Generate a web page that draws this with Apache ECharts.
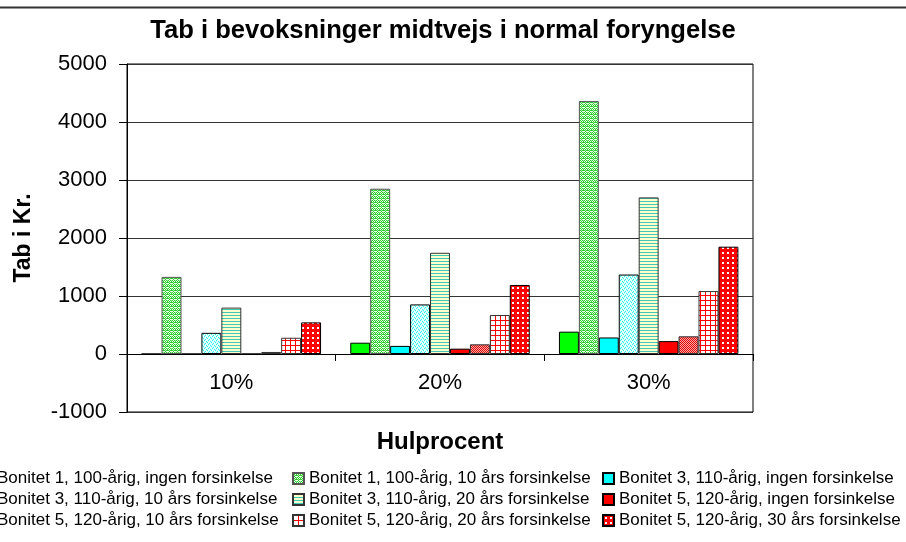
<!DOCTYPE html>
<html><head><meta charset="utf-8">
<script src="https://cdn.jsdelivr.net/npm/echarts@6/dist/echarts.min.js"></script>
<style>html,body{margin:0;padding:0;background:#fff}#c{width:906px;height:542px}</style>
</head><body><div id="c"></div>
<script>
// ---- data ----
const categories = ['10%', '20%', '30%'];
const seriesNames = [
  'Bonitet 1, 100-årig, ingen forsinkelse',
  'Bonitet 1, 100-årig, 10 års forsinkelse',
  'Bonitet 3, 110-årig, ingen forsinkelse',
  'Bonitet 3, 110-årig, 10 års forsinkelse',
  'Bonitet 3, 110-årig, 20 års forsinkelse',
  'Bonitet 5, 120-årig, ingen forsinkelse',
  'Bonitet 5, 120-årig, 10 års forsinkelse',
  'Bonitet 5, 120-årig, 20 års forsinkelse',
  'Bonitet 5, 120-årig, 30 års forsinkelse'
];
const b1_ingen = [0, 195, 385];
const b1_10 = [1330, 2850, 4360];
const b3_ingen = [0, 140, 285];
const b3_10 = [365, 855, 1370];
const b3_20 = [800, 1745, 2700];
const b5_ingen = [0, 92, 222];
const b5_10 = [35, 167, 305];
const b5_20 = [280, 672, 1085];
const b5_30 = [545, 1190, 1850];
const yMin = -1000, yMax = 5000, yStep = 1000;
const title = 'Tab i bevoksninger midtvejs i normal foryngelse';
const xName = 'Hulprocent';
const yName = 'Tab i Kr.';

// ---- patterns ----
function pat(w, h, fn) {
  const c = document.createElement('canvas');
  c.width = w; c.height = h;
  const g = c.getContext('2d');
  fn(g);
  return { image: c, repeat: 'repeat' };
}
function px(g, color, pts) { g.fillStyle = color; pts.forEach(p => g.fillRect(p[0], p[1], 1, 1)); }

const greenDots = pat(4, 4, g => {
  g.fillStyle = '#e6ffe6'; g.fillRect(0, 0, 4, 4);
  px(g, '#33cc33', [[0,0],[2,0],[1,1],[3,2],[0,2],[2,2],[1,3],[3,1]]);
  px(g, '#99ee99', [[1,2],[3,0]]);
});
const cyanDots = pat(4, 4, g => {
  g.fillStyle = '#ccffff'; g.fillRect(0, 0, 4, 4);
  px(g, '#33eeee', [[0,0],[2,1],[1,3],[3,2]]);
  px(g, '#ffffff', [[1,1],[3,0],[0,2],[2,3]]);
});
const stripes = pat(3, 3, g => {
  g.fillStyle = '#ffffcc'; g.fillRect(0, 0, 3, 3);
  g.fillStyle = '#40c8b8'; g.fillRect(0, 0, 3, 1);
});
const redFine = pat(2, 2, g => {
  g.fillStyle = '#ffaaaa'; g.fillRect(0, 0, 2, 2);
  px(g, '#e00000', [[0,0],[1,1]]);
});
const redGrid = pat(5, 5, g => {
  g.fillStyle = '#ffffff'; g.fillRect(0, 0, 5, 5);
  g.fillStyle = '#ff0000'; g.fillRect(0, 0, 5, 1); g.fillRect(0, 0, 1, 5);
});
const redCheck = pat(5, 5, g => {
  g.fillStyle = '#ff0000'; g.fillRect(0, 0, 5, 5);
  g.fillStyle = '#ffffff'; g.fillRect(2, 2, 2, 2);
});

const values = [b1_ingen, b1_10, b3_ingen, b3_10, b3_20, b5_ingen, b5_10, b5_20, b5_30];
const fills = ['#00ff00', greenDots, '#00ffff', cyanDots, stripes, '#ff0000', redFine, redGrid, redCheck];
const borders = ['#000', '#555', '#000', '#000', '#333', '#000', '#333', '#333', '#000'];

const FONT = 'Liberation Sans, Arial, sans-serif';

const series = values.map((v, i) => ({
  name: seriesNames[i],
  type: 'bar',
  data: v,
  barGap: '0%',
  barCategoryGap: '14%',
  itemStyle: { color: fills[i], borderColor: borders[i], borderWidth: 1 },
  emphasis: { disabled: true },
  animation: false
}));

function legendCol(idxs, left) {
  return {
    orient: 'vertical', left: left, top: 468, padding: 0, itemGap: 0,
    itemWidth: 11, itemHeight: 11, icon: 'rect', selectedMode: false,
    data: idxs.map(i => seriesNames[i]),
    textStyle: { fontFamily: FONT, fontSize: 17, color: '#000', lineHeight: 21 }
  };
}

const chart = echarts.init(document.getElementById('c'), null, { renderer: 'canvas' });
chart.setOption({
  animation: false,
  backgroundColor: '#fff',
  title: {
    text: title, left: 438, top: 13, textAlign: 'center',
    textStyle: { fontFamily: FONT, fontSize: 25.6, fontWeight: 'bold', color: '#000' }
  },
  graphic: [{
    type: 'line', shape: { x1: 0, y1: 7.5, x2: 906, y2: 7.5 },
    style: { stroke: '#333', lineWidth: 2 }
  }],
  grid: {
    left: 127, right: 153, top: 64, bottom: 130, show: true,
    borderColor: '#000', borderWidth: 1, backgroundColor: '#fff'
  },
  legend: [legendCol([0, 3, 6], -20), legendCol([1, 4, 7], 292), legendCol([2, 5, 8], 602)],
  xAxis: {
    type: 'category', data: categories,
    name: xName, nameLocation: 'middle', nameGap: 18,
    nameTextStyle: { fontFamily: FONT, fontSize: 24, fontWeight: 'bold', color: '#000' },
    axisLine: { onZero: true, lineStyle: { color: '#000', width: 1 } },
    axisTick: { show: true, length: 7, alignWithLabel: false, lineStyle: { color: '#000' } },
    axisLabel: { margin: -40, fontFamily: FONT, fontSize: 22, color: '#000' },
    splitLine: { show: false }
  },
  yAxis: {
    type: 'value', min: yMin, max: yMax, interval: yStep,
    name: yName, nameLocation: 'middle', nameGap: 92, nameRotate: 90,
    nameTextStyle: { fontFamily: FONT, fontSize: 23, fontWeight: 'bold', color: '#000' },
    axisLine: { show: true, lineStyle: { color: '#000', width: 1 } },
    axisTick: { show: true, length: 8, lineStyle: { color: '#000' } },
    axisLabel: { margin: 20, fontFamily: FONT, fontSize: 22, color: '#000', formatter: v => String(v) },
    splitLine: { show: true, lineStyle: { color: '#333', width: 1 } }
  },
  series: series
});
</script>
</body></html>
